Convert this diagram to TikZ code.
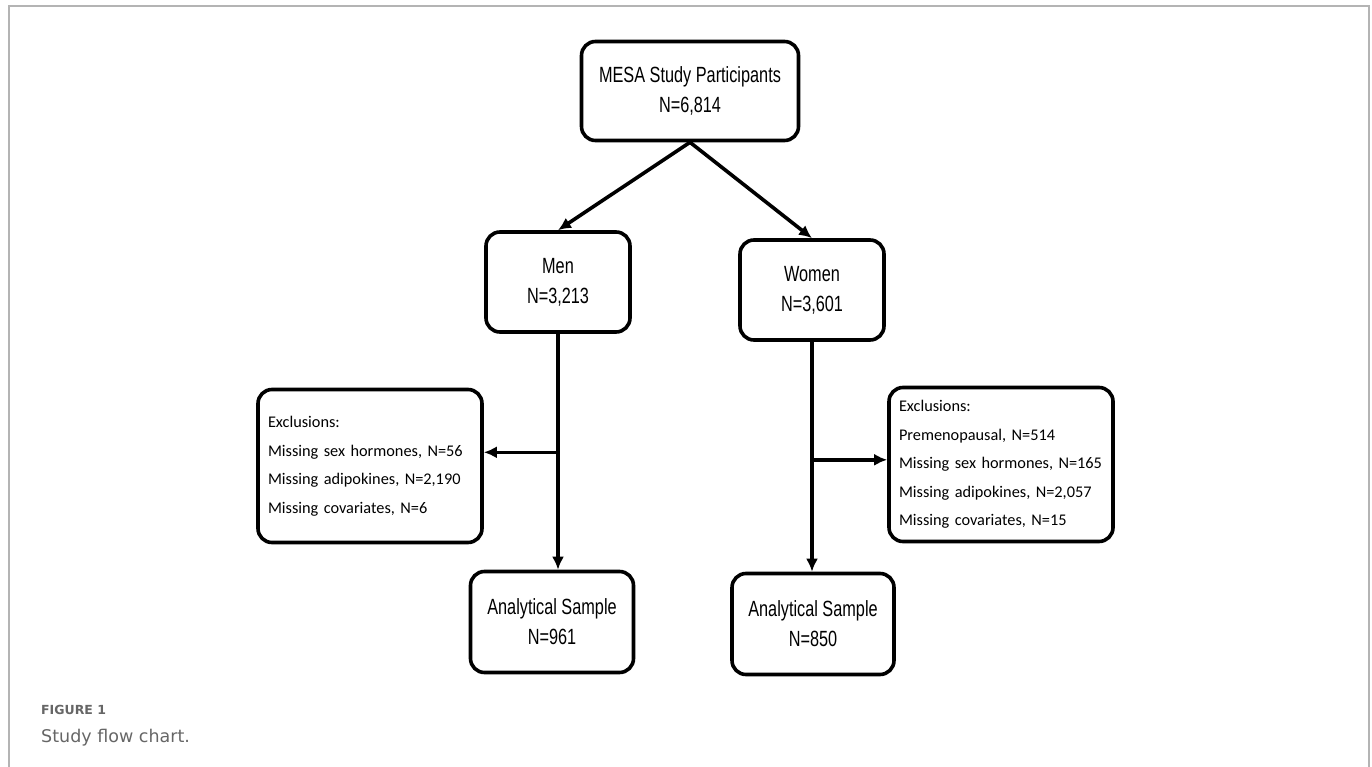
\documentclass[tikz,border=0pt]{standalone}
\usepackage{fontspec}
\newfontfamily\boxfont{Liberation Sans}[FakeStretch=0.74]
\newfontfamily\exclfont{Carlito}
\newfontfamily\capfont{DejaVu Sans}
\usetikzlibrary{arrows.meta}
\definecolor{framegray}{HTML}{B4B4B4}
\definecolor{capgray}{HTML}{666666}

\begin{document}
\begin{tikzpicture}[x=1pt,y=-1pt,>={Latex[length=13pt,width=12pt]}]
	\useasboundingbox (0,0) rectangle (1372,767);
	\draw[framegray,line width=2pt] (8.5,767) -- (8.5,6.5) -- (1369,6.5) -- (1369,767);

	\begin{scope}[every node/.style={draw,line width=3.6pt,rounded corners=14pt,align=center,font=\boxfont\fontsize{22}{30}\selectfont}]
		\node[minimum width=217pt,minimum height=99pt] (mesa) at (690,91) {MESA Study Participants\\N=6,814};

		\node[minimum width=144pt,minimum height=100pt] (men) at (558,282) {Men\\N=3,213};
		\node[minimum width=144pt,minimum height=100pt] (women) at (812,290) {Women\\N=3,601};

		\node[text width=204pt,inner xsep=10pt,minimum height=153pt,align=left,font=\exclfont\fontsize{16.3}{28.5}\selectfont] (exclmen) at (370,466) {Exclusions:\\Missing sex hormones, N=56\\Missing adipokines, N=2,190\\Missing covariates, N=6};
		\node[text width=204pt,inner xsep=10pt,minimum height=154pt,align=left,font=\exclfont\fontsize{16.3}{28.5}\selectfont] (exclwomen) at (1001,464.5) {Exclusions:\\Premenopausal, N=514\\Missing sex hormones, N=165\\Missing adipokines, N=2,057\\Missing covariates, N=15};

		\node[minimum width=163pt,minimum height=101pt] (anlmen) at (552,622) {Analytical Sample\\N=961};
		\node[minimum width=162pt,minimum height=101pt] (anlwomen) at (813,624) {Analytical Sample\\N=850};
	\end{scope}

	\begin{scope}[line width=3.6pt]
		\path[->] (mesa.south) edge (men.north);
		\path[->] (mesa.south) edge (women.north);

		\path (men.south) ++(0,118.5) coordinate (brl);
		\path (women.south) ++(0,118) coordinate (brr);

		\draw[->] (men.south) -- (men.south |- anlmen.north);
		\draw[->] (brl) -- (exclmen.east |- brl);
		\draw[->] (women.south) -- (women.south |- anlwomen.north);
		\draw[->] (brr) -- (exclwomen.west |- brr);
	\end{scope}

	\node[anchor=base west,inner sep=0pt,text=capgray,font=\capfont\bfseries\fontsize{12.5}{15}\selectfont] (fignum) at (41,714) {FIGURE 1};
	\node[anchor=base west,inner sep=0pt,text=capgray,font=\capfont\fontsize{17.5}{21}\selectfont] (figcap) at (41,742) {Study flow chart.};
\end{tikzpicture}
\end{document}
